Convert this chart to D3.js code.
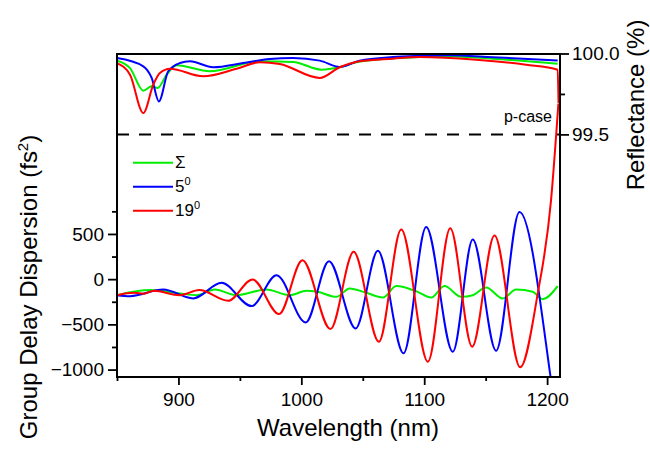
<!DOCTYPE html>
<html>
<head>
<meta charset="utf-8">
<script src="https://cdn.jsdelivr.net/npm/d3@7"></script>
<style>
  html, body { margin: 0; padding: 0; background: #fff; }
  svg { display: block; font-family: "Liberation Sans", Arial, sans-serif; }
</style>
</head>
<body>
<svg id="chart" width="650" height="454"></svg>
<script>
// ---------- DATA ----------
const xTicksMajor = [900, 1000, 1100, 1200];
const xTicksMinor = [850, 950, 1050, 1150];
const gddTicksMajor = [-1000, -500, 0, 500];
const gddTicksMinor = [-750, -250, 250, 750];
const reflTicksMajor = [99.5, 100.0];
const reflTicksMinor = [99.75];

const seriesNames = ["\u03A3", "5", "19"];
const seriesColors = ["#00ee00", "#0000ff", "#ff0000"];

// Reflectance (%) vs wavelength (nm)
const reflSigma = [[850,99.956],[860.6,99.910],[871.4,99.770],[878.2,99.797],[883.1,99.787],[890.4,99.869],[898.5,99.927],[925.6,99.890],[966.2,99.952],[993.3,99.948],[1016.3,99.900],[1031.2,99.915],[1047.5,99.950],[1096.2,99.978],[1120,99.983],[1155.8,99.968],[1208.6,99.937]];
const reflFive = [[850,99.972],[871.4,99.921],[878.2,99.849],[884.1,99.704],[891.7,99.890],[901.2,99.941],[909.3,99.952],[928.3,99.915],[952.6,99.941],[974.3,99.966],[993.3,99.972],[1015,99.956],[1031.2,99.917],[1047.5,99.956],[1074.5,99.978],[1096.2,99.985],[1120,99.989],[1155.8,99.977],[1208.6,99.956]];
const reflNineteen = [[850,99.941],[860.6,99.869],[871.4,99.632],[879.5,99.807],[884.9,99.879],[893.1,99.906],[920.1,99.859],[947.3,99.906],[966.2,99.946],[982.5,99.935],[1015,99.849],[1031.2,99.915],[1047.5,99.952],[1074.5,99.968],[1096.2,99.978],[1142.3,99.962],[1182.9,99.931],[1208.6,99.900],[1209.3,99.694]];

// Group delay dispersion (fs^2) vs wavelength (nm)
const gddSigma = [[850,-177],[876.8,-121],[901.2,-158],[914.8,-177],[929.6,-114],[947.3,-177],[971.6,-114],[990.6,-177],[1004.2,-129],[1013,-140],[1028.5,-195],[1039.4,-103],[1052.9,-151],[1066.4,-202],[1077.3,-77],[1094.6,-140],[1105.7,-202],[1116.5,-77],[1130.1,-195],[1139.5,-177],[1150.4,-92],[1163.9,-213],[1174.8,-114],[1188.3,-140],[1196.4,-221],[1208.6,-77]];
const gddFive = [[850,-177],[860.6,-188],[887.6,-114],[912,-213],[935.1,-41],[959.5,-298],[979.8,44],[1003.6,-478],[1022.5,199],[1044.2,-545],[1062.3,313],[1083.2,-820],[1101.6,577],[1123.3,-802],[1139.5,438],[1158.5,-791],[1177.5,743],[1203,-1100],[1206,-1400]];
const gddNineteen = [[850,-177],[864,-150],[872,-160],[880,-128],[901,-177],[917,-121],[940.4,-239],[960.3,-3],[981.9,-386],[1000.9,210],[1023.7,-552],[1042.6,302],[1063.1,-692],[1081.3,548],[1103,-913],[1121.2,563],[1139,-747],[1157.2,482],[1178.1,-975],[1192.4,-158],[1203.2,872],[1209.2,1943]];

const pCaseLevel = 99.5;

// ---------- LAYOUT ----------
const svg = d3.select("#chart");
const L = 117, R = 560, T = 54, B = 377;

const x = d3.scaleLinear().domain([850, 1210.5]).range([L, R]);
const yG = d3.scaleLinear().domain([-1082, 2490]).range([B, T]);
const yR = d3.scaleLinear().domain([98.0, 100.0]).range([B, T - 0.5]);

svg.append("rect").attr("width", 650).attr("height", 454).attr("fill", "#fff");

svg.append("defs").append("clipPath").attr("id", "clip")
  .append("rect").attr("x", L).attr("y", T).attr("width", R - L).attr("height", B - T);

const plot = svg.append("g").attr("clip-path", "url(#clip)");

// dashed p-case line
plot.append("line")
  .attr("x1", L).attr("x2", R)
  .attr("y1", yR(pCaseLevel)).attr("y2", yR(pCaseLevel))
  .attr("stroke", "#000").attr("stroke-width", 2).attr("stroke-dasharray", "12,10");

const lineR = d3.line().x(d => x(d[0])).y(d => yR(d[1])).curve(d3.curveMonotoneX);
const lineG = d3.line().x(d => x(d[0])).y(d => yG(d[1])).curve(d3.curveMonotoneX);

const reflSets = [reflSigma, reflFive, reflNineteen];
const gddSets = [gddSigma, gddFive, gddNineteen];

reflSets.forEach((s, i) => {
  plot.append("path").attr("d", lineR(s)).attr("fill", "none")
    .attr("stroke", seriesColors[i]).attr("stroke-width", 2);
});
gddSets.forEach((s, i) => {
  plot.append("path").attr("d", lineG(s)).attr("fill", "none")
    .attr("stroke", seriesColors[i]).attr("stroke-width", 2);
});

// ---------- AXES ----------
function styleAxis(g) {
  g.select(".domain").remove();
  g.selectAll("line").attr("stroke", "#000").attr("stroke-width", 1.8);
  g.selectAll("text").attr("font-size", 19).attr("fill", "#000")
    .attr("font-family", "Liberation Sans, Arial, sans-serif");
}

svg.append("g").attr("transform", `translate(0,${B})`)
  .call(d3.axisBottom(x).tickValues(xTicksMajor).tickSize(8).tickPadding(8).tickFormat(d3.format("d")))
  .call(styleAxis);
svg.append("g").attr("transform", `translate(0,${B})`)
  .call(d3.axisBottom(x).tickValues(xTicksMinor).tickSize(4).tickFormat(""))
  .call(styleAxis);

svg.append("g").attr("transform", `translate(${L},0)`)
  .call(d3.axisLeft(yG).tickValues(gddTicksMajor).tickSize(9).tickPadding(4).tickFormat(d3.format("d")))
  .call(styleAxis);
svg.append("g").attr("transform", `translate(${L},0)`)
  .call(d3.axisLeft(yG).tickValues(gddTicksMinor).tickSize(5).tickFormat(""))
  .call(styleAxis);

svg.append("g").attr("transform", `translate(${R},0)`)
  .call(d3.axisRight(yR).tickValues(reflTicksMajor).tickSize(9).tickPadding(3).tickFormat(d3.format(".1f")))
  .call(styleAxis);
svg.append("g").attr("transform", `translate(${R},0)`)
  .call(d3.axisRight(yR).tickValues(reflTicksMinor).tickSize(5).tickFormat(""))
  .call(styleAxis);

// frame
svg.append("rect").attr("x", L).attr("y", T).attr("width", R - L).attr("height", B - T)
  .attr("fill", "none").attr("stroke", "#000").attr("stroke-width", 2);

// ---------- TEXT ----------
svg.append("text").attr("x", 348).attr("y", 436).attr("text-anchor", "middle")
  .attr("font-size", 24).text("Wavelength (nm)");

const lt = svg.append("text").attr("transform", "translate(37,287) rotate(-90)")
  .attr("text-anchor", "middle").attr("font-size", 24);
lt.append("tspan").text("Group Delay Dispersion (fs");
lt.append("tspan").attr("font-size", 15).attr("dy", -9).text("2");
lt.append("tspan").attr("dy", 9).text(")");

svg.append("text").attr("transform", "translate(644,105) rotate(-90)")
  .attr("text-anchor", "middle").attr("font-size", 24).text("Reflectance (%)");

svg.append("text").attr("x", 552).attr("y", 122).attr("text-anchor", "end")
  .attr("font-size", 16).text("p-case");

// legend
const legY = [162.7, 186.7, 210.7];
seriesNames.forEach((name, i) => {
  svg.append("line").attr("x1", 133).attr("x2", 173).attr("y1", legY[i]).attr("y2", legY[i])
    .attr("stroke", seriesColors[i]).attr("stroke-width", 2);
  const t = svg.append("text").attr("x", 175).attr("y", legY[i]).attr("dy", "0.34em")
    .attr("font-size", 17);
  t.append("tspan").text(name);
  if (i > 0) t.append("tspan").attr("font-size", 11).attr("dy", -7).text("0");
});
</script>
</body>
</html>
